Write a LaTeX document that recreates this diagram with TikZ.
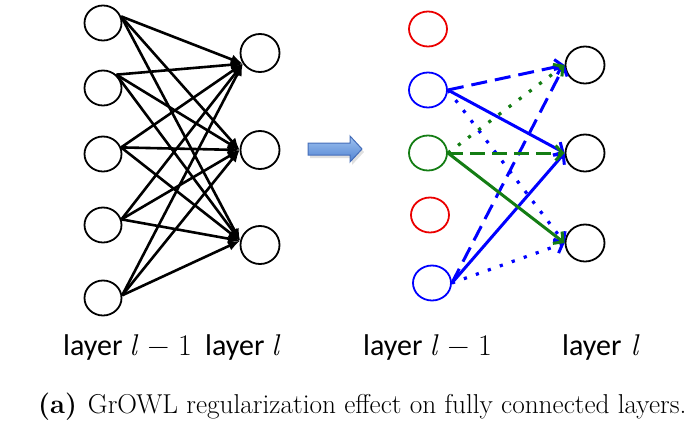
\documentclass[tikz,border=0pt]{standalone}
\usepackage{fontspec}
\newfontfamily\labelfont{Carlito}
\newfontfamily\mathlike{Latin Modern Roman}
\usetikzlibrary{shapes.geometric,arrows.meta}

\definecolor{netblue}{RGB}{0,0,255}
\definecolor{netgreen}{RGB}{20,125,20}
\definecolor{netred}{RGB}{235,0,0}
\definecolor{arrtop}{RGB}{160,195,240}
\definecolor{arrbot}{RGB}{80,130,210}
\definecolor{arrline}{RGB}{70,110,185}

% layer index set like math, but with the scalable text font
\newcommand{\lidx}{{\mathlike\itshape l}}
\newcommand{\lidxm}{{\mathlike\itshape l\/}{\mathlike\hspace{0.3em}−\hspace{0.3em}1}}

\tikzset{
  neuron/.style={ellipse, draw, line width=1.8pt, inner sep=0pt,
                 minimum width=37pt, minimum height=35pt},
  bigneuron/.style={neuron, minimum width=39pt, minimum height=38pt},
  dense/.style={line width=2.6pt, -{Latex[length=12pt,width=10pt]}},
  pruned/.style={line width=3pt, -{Straight Barb[length=7pt,width=15pt,line width=3pt]}},
  dashedge/.style={pruned, dash pattern=on 16pt off 8pt},
  dotedge/.style={pruned, line width=3.2pt, dash pattern=on 3.2pt off 9.5pt},
  layerlabel/.style={anchor=base west, inner sep=0pt,
                     font=\fontsize{30}{36}\selectfont\labelfont},
  captiontext/.style={anchor=base west, inner sep=0pt,
                      font=\fontsize{27.3}{32}\selectfont}
}

\begin{document}
\begin{tikzpicture}[x=1pt,y=-1pt]
\useasboundingbox (0,0) rectangle (695,423);

% ---- dense layer pair ----
\node[neuron] (a1) at (103,23)  {};
\node[neuron] (a2) at (103,88)  {};
\node[neuron] (a3) at (103,154) {};
\node[neuron] (a4) at (103,225) {};
\node[neuron] (a5) at (103,298) {};
\node[bigneuron] (b1) at (260,53)  {};
\node[bigneuron] (b2) at (260,150) {};
\node[bigneuron] (b3) at (260,245) {};

\foreach \s/\ang in {a1/20,a2/45,a3/20,a4/17,a5/8}{
  \draw[dense] (\s.\ang) -- (b1.212);
  \draw[dense] (\s.\ang) -- (b2.180);
  \draw[dense] (\s.\ang) -- (b3.168);
}

% ---- block arrow between the two panels ----
\fill[black,opacity=0.12]
  (310,146) -- (352,146) -- (352,139) -- (364,152) -- (352,165) -- (352,158) -- (310,158) -- cycle;
\draw[arrline, line width=1pt, top color=arrtop, bottom color=arrbot]
  (308,143) -- (350,143) -- (350,136) -- (362,149) -- (350,162) -- (350,155) -- (308,155) -- cycle;

% ---- sparse layer pair ----
\node[neuron, draw=netred, minimum width=38pt]   (c1) at (428,29)  {};
\node[neuron, draw=netblue, minimum width=38pt]  (c2) at (428,90)  {};
\node[neuron, draw=netgreen, minimum width=38pt] (c3) at (428,153) {};
\node[neuron, draw=netred, minimum width=38pt]   (c4) at (430,215) {};
\node[neuron, draw=netblue, minimum width=38pt]  (c5) at (432,283) {};
\node[bigneuron, minimum height=37pt] (d1) at (585,65)  {};
\node[bigneuron, minimum height=37pt] (d2) at (585,153) {};
\node[bigneuron, minimum height=37pt] (d3) at (585,243) {};

\begin{scope}[netblue]
  \draw[dashedge] (c2.east) -- (d1.west);
  \draw[pruned]   (c2.east) -- (d2.west);
  \draw[dotedge]  (c2.east) -- (d3.west);
  \draw[dashedge] (c5.east) -- (d1.west);
  \draw[pruned]   (c5.east) -- (d2.west);
  \draw[dotedge]  (c5.east) -- (d3.west);
\end{scope}
\begin{scope}[netgreen]
  \draw[dotedge]  (c3.east) -- (d1.west);
  \draw[dashedge, dash pattern=on 15pt off 7pt] (c3.east) -- (d2.west);
  \draw[pruned]   (c3.east) -- (d3.west);
\end{scope}

% ---- layer labels ----
\node[layerlabel] (l1) at (63,355)  {layer\hspace{7pt}\lidxm};
\node[layerlabel] (l2) at (205,355) {layer \lidx};
\node[layerlabel] (l3) at (363,355) {layer\hspace{7pt}\lidxm};
\node[layerlabel] (l4) at (562,355) {layer\hspace{9pt}\lidx};

% ---- caption ----
\node[captiontext] (cap) at (38,413)
  {\textbf{(a)}\hspace{0.4em}GrOWL regularization effect on fully connected layers.};
\end{tikzpicture}
\end{document}
